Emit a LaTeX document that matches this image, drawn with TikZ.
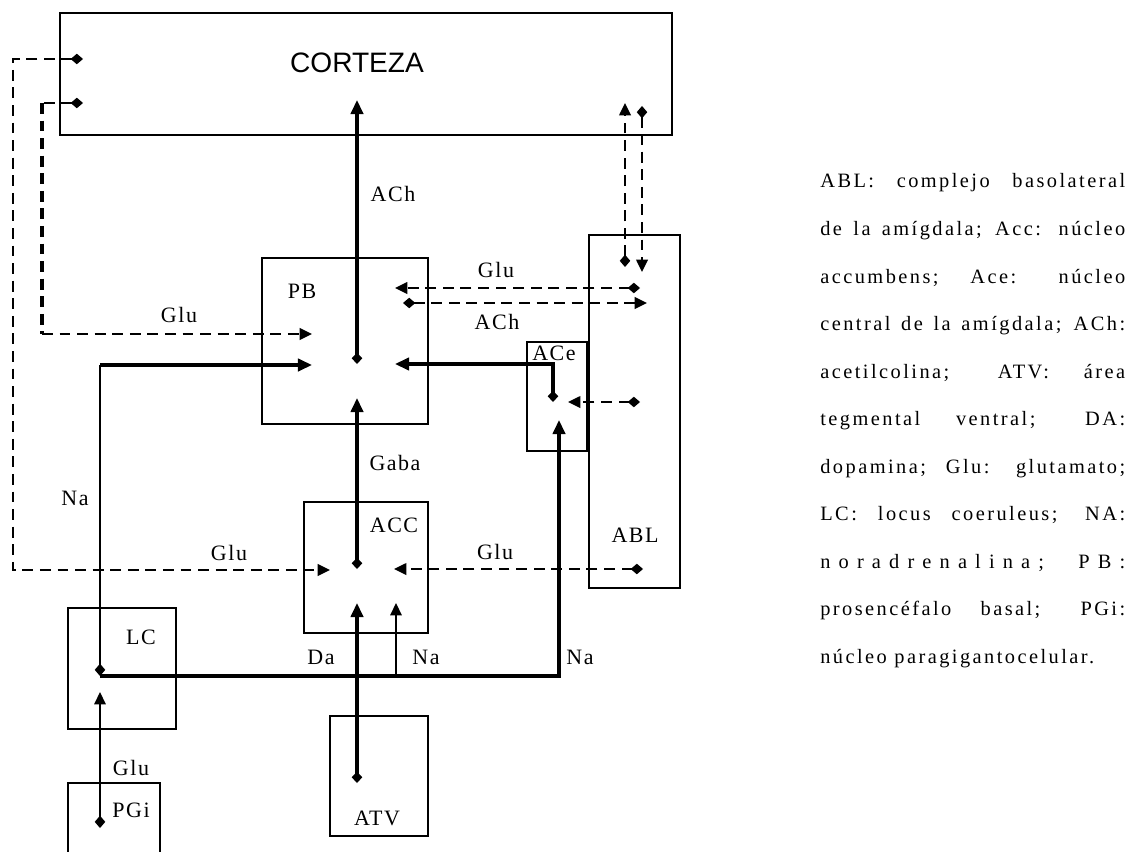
\documentclass[tikz,border=0pt]{standalone}
\usepackage{fontspec}
\setmainfont{Liberation Serif}
\newfontfamily\cortfont{Liberation Sans}
\newfontfamily\lblfont{Liberation Serif}[LetterSpace=7]
\newfontfamily\legfont{Liberation Serif}[LetterSpace=12]
\usetikzlibrary{arrows.meta,fit,calc}

\begin{document}
\begin{tikzpicture}[x=0.02cm, y=-0.02cm,
    region/.style={draw, line width=1pt, inner sep=0pt},
    lbl/.style={inner sep=0pt, font=\lblfont\fontsize{12.5pt}{14pt}\selectfont},
    legline/.style={inner sep=0pt, anchor=base west, font=\legfont\fontsize{11.6pt}{13pt}\selectfont},
    thickln/.style={line width=1.8pt},
    thinln/.style={line width=0.9pt},
    dashln/.style={line width=1.25pt, dash pattern=on 6.2pt off 3.8pt},
    biglink/.style={arrows={Diamond[length=6.5pt,width=6pt]-Triangle[length=8pt,width=7pt]}},
    smalllink/.style={arrows={Diamond[length=7pt,width=6pt]-Triangle[length=7pt,width=6.5pt]}},
    srcdia/.style={arrows={Diamond[length=7pt,width=6pt]-}},
    bigtip/.style={arrows={-Triangle[length=8pt,width=7pt]}},
    smalltip/.style={arrows={-Triangle[length=7pt,width=6.5pt]}},
]
    \useasboundingbox (0,0) rectangle (1141,851);

    % Regions
    \node[region, fit={(60,13)(672,135)}] (corteza) {};
    \node[region, fit={(262,258)(428,424)}] (pb) {};
    \node[region, fit={(589,235)(680,588)}] (abl) {};
    \node[region, fit={(527,342)(587,451)}] (ace) {};
    \node[region, fit={(304,502)(428,633)}] (acc) {};
    \node[region, fit={(68,608)(176,729)}] (lc) {};
    \node[region, fit={(330,716)(428,836)}] (atv) {};
    \node[region, fit={(68,783)(160,880)}] (pgi) {};

    \node[inner sep=0pt, font=\cortfont\fontsize{16pt}{18pt}\selectfont] (cortezaLbl) at (357,63) {CORTEZA};
    \node[lbl] (pbLbl) at (302,291) {PB};
    \node[lbl] (aceLbl) at (554,353) {ACe};
    \node[lbl] (accLbl) at (394,525) {ACC};
    \node[lbl] (ablLbl) at (635,535) {ABL};
    \node[lbl] (lcLbl) at (141,637) {LC};
    \node[lbl] (atvLbl) at (377,818) {ATV};
    \node[lbl] (pgiLbl) at (131,810) {PGi};

    % End points
    \coordinate (cxGluA) at (83,59);
    \coordinate (cxGluB) at (83,103);
    \coordinate (cxACh) at (357,100);
    \coordinate (cxIn) at (625,103);
    \coordinate (cxOut) at (642,106);
    \coordinate (pbC) at (357,364);
    \coordinate (pbGluL) at (312,334);
    \coordinate (pbNa) at (312,365);
    \coordinate (pbGaba) at (357,398);
    \coordinate (pbACe) at (395,364);
    \coordinate (pbGluR) at (395,288);
    \coordinate (pbACh) at (403,303);
    \coordinate (ablOut) at (625,267);
    \coordinate (ablIn) at (642,272);
    \coordinate (ablGluPB) at (640,288);
    \coordinate (ablACh) at (647,303);
    \coordinate (ablGluCe) at (640,402);
    \coordinate (aceGlu) at (568,402);
    \coordinate (ablGluAcc) at (643,569);
    \coordinate (aceC) at (553,402);
    \coordinate (aceNa) at (559,420);
    \coordinate (accC) at (357,569);
    \coordinate (accGluL) at (330,570);
    \coordinate (accGluR) at (394,569);
    \coordinate (accDa) at (357,603);
    \coordinate (accNa) at (396,603);
    \coordinate (lcC) at (100,676);
    \coordinate (lcGlu) at (100,692);
    \coordinate (pgiC) at (100,828);
    \coordinate (atvC) at (357,783);
    \coordinate (gluBend) at (42,103);
    \coordinate (gluCorner) at (42,334);
    \coordinate (naBend) at (100,365);

    % Solid pathways
    \draw[thickln, biglink] (pbC) -- (cxACh);
    \draw[thickln, biglink] (accC) -- (pbGaba);
    \draw[thickln, biglink] (atvC) -- (accDa);
    \draw[thickln, biglink] (aceC) |- (pbACe);
    \draw[thickln, bigtip] (lcC) -| (aceNa);
    \draw[thinln, srcdia] (lcC) -- (naBend);
    \draw[thickln, bigtip] (naBend) -- (pbNa);
    \draw[thinln, smalltip] (accNa |- lcC) -- (accNa);
    \draw[thinln, smalllink] (pgiC) -- (lcGlu);

    % Dashed pathways
    \draw[dashln, smalllink] (cxGluA) -- ++(-70,0) |- (accGluL);
    \draw[dashln, srcdia] (cxGluB) -- (gluBend);
    \draw[dashln, line width=2.2pt] (gluBend) -- (gluCorner);
    \draw[dashln, smalltip] (gluCorner) -- (pbGluL);
    \draw[dashln, smalllink] (ablGluPB) -- (pbGluR);
    \draw[dashln, smalllink] (pbACh) -- (ablACh);
    \draw[dashln, smalllink] (ablGluCe) -- (aceGlu);
    \draw[dashln, smalllink] (ablGluAcc) -- (accGluR);
    \draw[dashln, smalllink] (ablOut) -- (cxIn);
    \draw[dashln, smalllink] (cxOut) -- (ablIn);

    % Transmitters
    \node[lbl] (achUp) at (393,194) {ACh};
    \node[lbl] (gluPB) at (496,270) {Glu};
    \node[lbl] (achABL) at (497,322) {ACh};
    \node[lbl] (gluLeftA) at (179,315) {Glu};
    \node[lbl] (naLeft) at (75,498) {Na};
    \node[lbl] (gaba) at (395,463) {Gaba};
    \node[lbl] (gluLeftB) at (229,553) {Glu};
    \node[lbl] (gluRight) at (495,552) {Glu};
    \node[lbl] (da) at (321,657) {Da};
    \node[lbl] (naMid) at (426,657) {Na};
    \node[lbl] (naRight) at (580,657) {Na};
    \node[lbl] (gluPGi) at (131,768) {Glu};

    % Legend
    \foreach \txt [count=\n from 0] in {{ABL: complejo basolateral},{de la amígdala; Acc: núcleo},
        {accumbens; Ace: núcleo},{central de la amígdala; ACh:},{acetilcolina; ATV: área},
        {tegmental ventral; DA:},{dopamina; Glu: glutamato;},{LC: locus coeruleus; NA:},
        {\addfontfeatures{LetterSpace=40}noradrenalina; PB:},{prosencéfalo basal; PGi:}} {
        \pgfmathsetmacro{\ypos}{188+47.5*\n}
        \node[legline] (leg\n) at (820,\ypos) {\makebox[173.5pt][s]{\txt}};
    }
    \node[legline] (leg10) at (820,663) {núcleo paragigantocelular.};
\end{tikzpicture}
\end{document}
